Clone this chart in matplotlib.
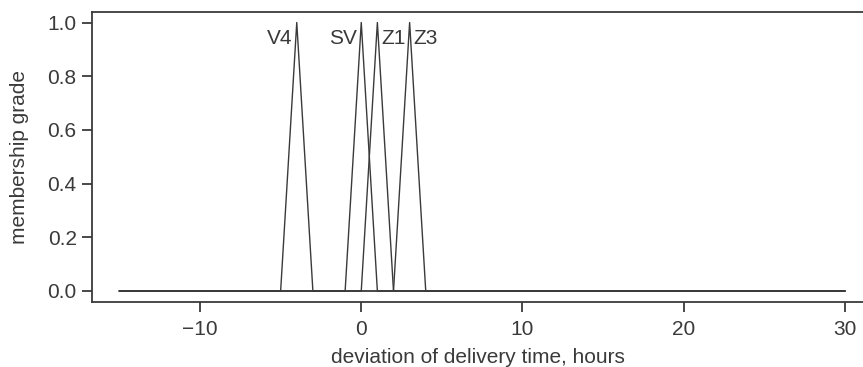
import matplotlib
matplotlib.use("Agg")
import matplotlib.pyplot as plt

# fuzzy sets of delivery-time deviation (hours): breakpoints and grades
set_names = ['V4', 'SV', 'Z1', 'Z3']
set_x = [
    [-15, -5, -4, -3, 30],
    [-15, -1, 0, 1, 30],
    [-15, 0, 1, 2, 30],
    [-15, 2, 3, 4, 30],
]
set_y = [0, 0, 1, 0, 0]
label_side = ['left', 'left', 'right', 'right']

ink = '#3a3a3a'
plt.rcParams['font.family'] = ['Liberation Sans', 'DejaVu Sans']
plt.rcParams['font.size'] = 15

fig = plt.figure(figsize=(8.63, 3.67), dpi=100)
ax = fig.add_axes([92 / 863, 1 - 302 / 367, 1 - 92 / 863, (302 - 11.5) / 367])

for name, xs, side in zip(set_names, set_x, label_side):
    ax.plot(xs, set_y, color=ink, lw=1.0)
    peak = xs[2]
    if side == 'left':
        ax.annotate(name, (peak, 0.94), xytext=(-3, 0), textcoords='offset points',
                    ha='right', va='center', color=ink, fontsize=15)
    else:
        ax.annotate(name, (peak, 0.94), xytext=(3, 0), textcoords='offset points',
                    ha='left', va='center', color=ink, fontsize=15)

ax.set_xlim(-16.7, 31.12)
ax.set_ylim(-0.041, 1.041)
ax.set_xticks([-10, 0, 10, 20, 30])
ax.set_yticks([0.0, 0.2, 0.4, 0.6, 0.8, 1.0])
ax.set_xticklabels(['\u221210', '0', '10', '20', '30'])
ax.set_yticklabels(['0.0', '0.2', '0.4', '0.6', '0.8', '1.0'])
ax.set_xlabel('deviation of delivery time, hours', color=ink, fontsize=15, labelpad=6.5)
ax.set_ylabel('membership grade', color=ink, fontsize=15, labelpad=13)

ax.spines['right'].set_visible(False)
for s in ['left', 'bottom', 'top']:
    ax.spines[s].set_color(ink)
    ax.spines[s].set_linewidth(1.3)
ax.tick_params(direction='out', length=7.5, width=1.3, color=ink, labelcolor=ink, labelsize=15)
ax.tick_params(axis='x', pad=5.5)

fig.savefig('out.png', dpi=100)
